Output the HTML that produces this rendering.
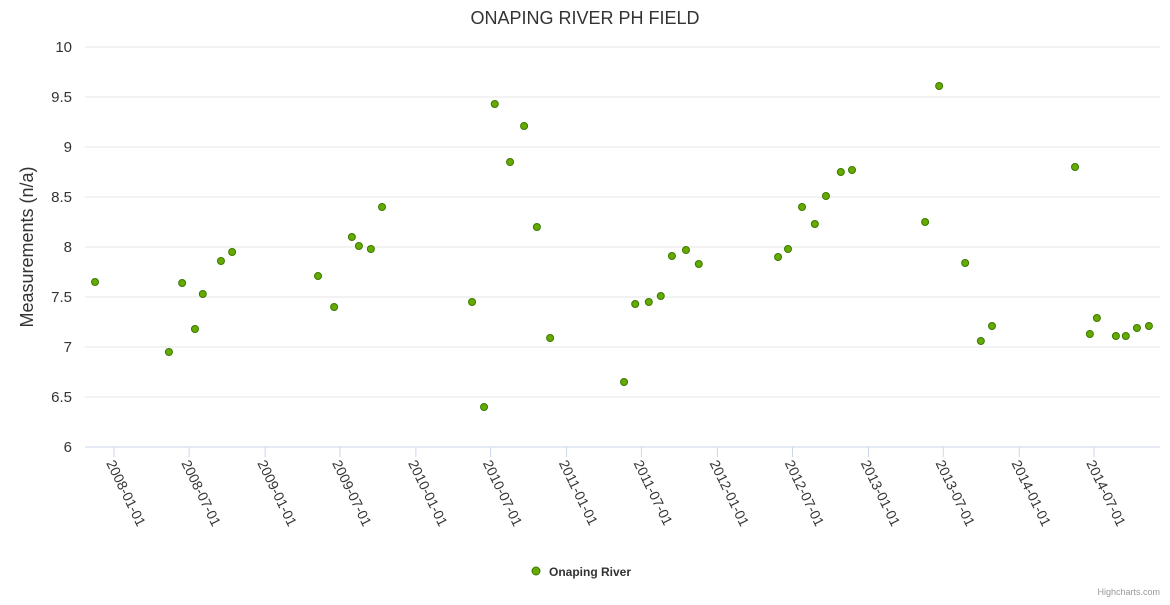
<!DOCTYPE html>
<html><head><meta charset="utf-8"><style>
body{margin:0;background:#fff;font-family:"Liberation Sans",sans-serif;}
svg text{font-family:"Liberation Sans",sans-serif;}
</style></head><body>
<svg id="chart" width="1170" height="600">
<text x="585" y="24" text-anchor="middle" font-size="18" fill="#333">ONAPING RIVER PH FIELD</text>
<text transform="translate(33,247) rotate(-90)" text-anchor="middle" font-size="18" fill="#333">Measurements (n/a)</text>
<g id="grid"></g><g id="xaxis"></g><g id="points"></g>
<g>
<circle cx="536" cy="571" r="4" fill="#66aa00" stroke="#3a7a00" stroke-width="1"/>
<text x="549" y="576" font-size="12" font-weight="bold" fill="#333">Onaping River</text>
</g>
<text x="1160" y="595" text-anchor="end" font-size="9" fill="#999">Highcharts.com</text>
</svg>
<script>
const dates=["2007-11-16","2008-05-13","2008-06-14","2008-07-15","2008-08-03","2008-09-16","2008-10-13","2009-05-09","2009-06-17","2009-07-30","2009-08-16","2009-09-14","2009-10-11","2010-05-17","2010-06-15","2010-07-11","2010-08-17","2010-09-20","2010-10-21","2010-11-22","2011-05-20","2011-06-16","2011-07-19","2011-08-17","2011-09-13","2011-10-17","2011-11-17","2012-05-27","2012-06-20","2012-07-24","2012-08-24","2012-09-20","2012-10-26","2012-11-22","2013-05-18","2013-06-21","2013-08-23","2013-09-30","2013-10-27","2014-05-16","2014-06-21","2014-07-08","2014-08-23","2014-09-16","2014-10-13","2014-11-11"];
const values=[7.65,6.95,7.64,7.18,7.53,7.86,7.95,7.71,7.40,8.10,8.01,7.98,8.40,7.45,6.40,9.43,8.85,9.21,8.20,7.09,6.65,7.43,7.45,7.51,7.91,7.97,7.83,7.90,7.98,8.40,8.23,8.51,8.75,8.77,8.25,9.61,7.84,7.06,7.21,8.80,7.13,7.29,7.11,7.11,7.19,7.21];
const yTicks=[6,6.5,7,7.5,8,8.5,9,9.5,10];
const xTicks=["2008-01-01","2008-07-01","2009-01-01","2009-07-01","2010-01-01","2010-07-01","2011-01-01","2011-07-01","2012-01-01","2012-07-01","2013-01-01","2013-07-01","2014-01-01","2014-07-01"];
const NS="http://www.w3.org/2000/svg";
const t0=Date.parse("2008-01-01"),t1=Date.parse("2014-07-01");
function xs(d){return 114+(Date.parse(d)-t0)/(t1-t0)*980;}
function ys(v){return 447-(v-6)*100;}
function mk(tag,a,parent){const e=document.createElementNS(NS,tag);for(const k in a)e.setAttribute(k,a[k]);document.getElementById(parent).appendChild(e);return e;}
yTicks.forEach(v=>{
 const l=mk("line",{x1:85,x2:1160,y1:ys(v),y2:ys(v),stroke:v===6?"#ccd6eb":"#e6e6e6","stroke-width":1},"grid");
 
 
 const t=mk("text",{x:72,y:ys(v)+5,"text-anchor":"end","font-size":15,fill:"#333"},"grid");
 t.textContent=String(v);
 
 
});
xTicks.forEach(d=>{
 const x=xs(d);
 const l=mk("line",{x1:x,x2:x,y1:447,y2:457,stroke:"#ccd6eb"},"xaxis");
 
 
 const t=mk("text",{transform:`translate(${x-8},${463}) rotate(64)`,"font-size":14,fill:"#333"},"xaxis");
 t.textContent=d;
 
 
});
dates.forEach((d,i)=>{
 const c=mk("circle",{cx:xs(d),cy:ys(values[i]),r:3.5,fill:"#66aa00",stroke:"#3a7a00","stroke-width":1},"points");
 
 
});
</script>
</body></html>
